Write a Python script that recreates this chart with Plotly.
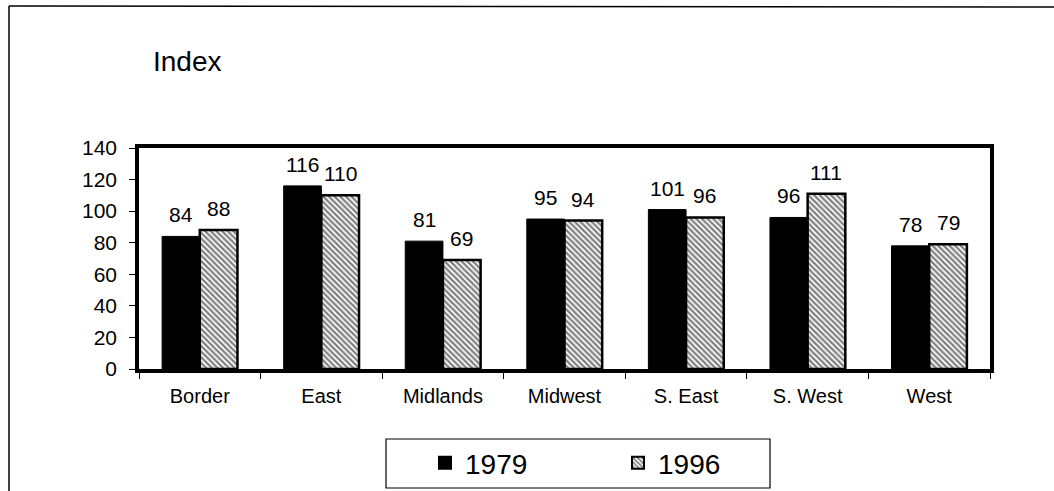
import plotly.graph_objects as go

categories = ["Border", "East", "Midlands", "Midwest", "S. East", "S. West", "West"]
values_1979 = [84, 116, 81, 95, 101, 96, 78]
values_1996 = [88, 110, 69, 94, 96, 111, 79]
y_ticks = [0, 20, 40, 60, 80, 100, 120, 140]

FONT = "Arial, Liberation Sans, sans-serif"

W, H = 1054, 491
ml, mt = 139, 148
mr = W - 990
mb = H - 369
pw, ph = W - ml - mr, H - mt - mb
BARGAP = 0.38

def px_x(p):
    return (p - ml) / pw

def px_y(p):
    return (H - mb - p) / ph

fig = go.Figure()
fig.add_trace(go.Bar(
    x=categories, y=values_1979, name="1979",
    marker=dict(color="black", line=dict(color="black", width=1)),
))
fig.add_trace(go.Bar(
    x=categories, y=values_1996, name="1996",
    marker=dict(color="white", line=dict(color="black", width=2.5),
                pattern=dict(shape="\\", fgcolor="black", bgcolor="white",
                             size=4, solidity=0.55)),
))

# value labels above bars (offset by half a bar width within each group)
bar_w = pw / len(categories) * (1 - BARGAP) / 2
annotations = []
for series, shift in ((values_1979, -bar_w / 2), (values_1996, bar_w / 2)):
    for c, v in zip(categories, series):
        annotations.append(dict(x=c, y=v, xref="x", yref="y", text=str(v), showarrow=False,
                                xanchor="center", yanchor="bottom", xshift=shift, yshift=8,
                                font=dict(size=21, family=FONT, color="black")))

fig.update_layout(
    width=W, height=H,
    margin=dict(l=ml, r=mr, t=mt, b=mb, autoexpand=False),
    paper_bgcolor="white", plot_bgcolor="white",
    barmode="group", bargap=BARGAP, bargroupgap=0.0,
    font=dict(family=FONT, color="black", size=20),
    title=dict(text="Index", x=153 / W, xanchor="left", xref="container",
               y=1 - 61 / H, yanchor="middle", yref="container",
               font=dict(size=28, family=FONT, color="black")),
    showlegend=True,
    legend=dict(orientation="h", x=px_x(425), y=px_y(463), xanchor="left", yanchor="middle",
                borderwidth=0, bgcolor="rgba(0,0,0,0)",
                font=dict(size=28, family=FONT, color="black"),
                entrywidth=148, entrywidthmode="pixels", itemsizing="constant",
                tracegroupgap=0),
    xaxis=dict(showline=True, linecolor="black", linewidth=3.5, mirror=True,
               ticks="outside", tickson="boundaries", ticklen=6, tickcolor="black",
               tickfont=dict(size=20, family=FONT), showgrid=False, ticklabelstandoff=6),
    yaxis=dict(range=[0, 140], tickvals=y_ticks, showline=True, linecolor="black",
               linewidth=3.5, mirror=True, ticks="outside", ticklen=6, tickcolor="black",
               tickfont=dict(size=21, family=FONT), showgrid=False, zeroline=False,
               ticklabelstandoff=8),
    annotations=annotations,
    shapes=[
        dict(type="line", xref="paper", yref="paper", x0=px_x(9), x1=px_x(1054), y0=px_y(6), y1=px_y(7),
             line=dict(color="black", width=1.5)),
        dict(type="line", xref="paper", yref="paper", x0=px_x(9), x1=px_x(9), y0=px_y(6), y1=px_y(491),
             line=dict(color="black", width=1.5)),
        dict(type="rect", xref="paper", yref="paper", x0=px_x(386), x1=px_x(770), y0=px_y(439), y1=px_y(488),
             line=dict(color="black", width=1.2), fillcolor="rgba(0,0,0,0)"),
    ],
)

fig.write_html("out.html", config={"displayModeBar": False},
               post_script="document.body.style.margin='0';document.body.style.overflow='hidden';")
